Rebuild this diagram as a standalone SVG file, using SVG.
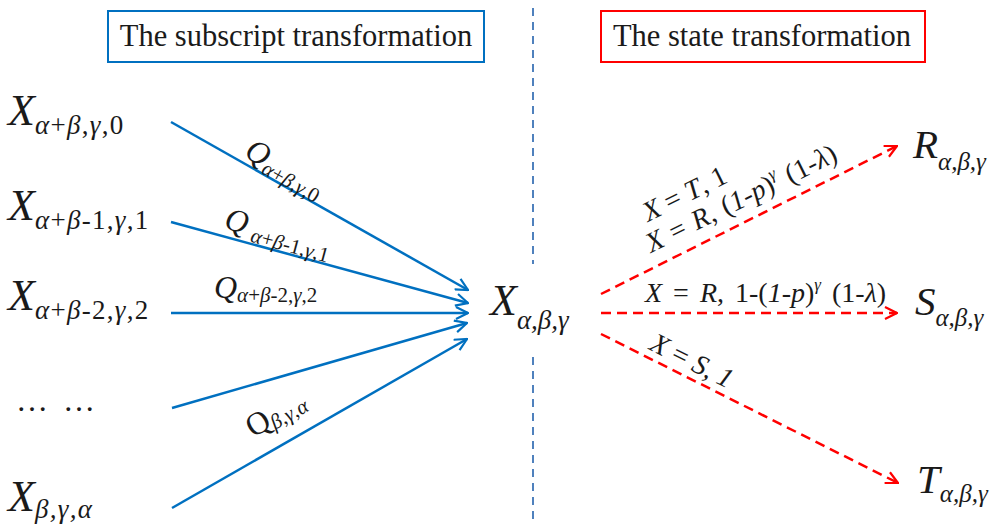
<svg xmlns="http://www.w3.org/2000/svg" width="996" height="530" viewBox="0 0 996 530">
<style>
text{font-family:"Liberation Serif","Times New Roman",serif;fill:#1a1a1a}
.big{font-size:44px}
.big2{font-size:41px}
.i{font-style:italic}
.s{font-size:27px;letter-spacing:1.3px}
.s2{font-size:25px}
.q{font-size:32px}
.qs{font-size:21px}
.lab{font-size:28px}
.sup{font-size:17px}
.title{font-size:30.5px}
.blue{stroke:#0070C0;stroke-width:2.5;fill:none}
.red{stroke:#FF0000;stroke-width:2.5;fill:none;stroke-dasharray:10 6}
</style>
<defs>
<marker id="ab" viewBox="0 0 14 14" refX="13" refY="7" markerWidth="14" markerHeight="14" orient="auto" markerUnits="userSpaceOnUse">
<path d="M1,1 L13,7 L1,13" fill="none" stroke="#0070C0" stroke-width="2.2"/>
</marker>
<marker id="ar" viewBox="0 0 14 14" refX="13" refY="7" markerWidth="14" markerHeight="14" orient="auto" markerUnits="userSpaceOnUse">
<path d="M1,1 L13,7 L1,13" fill="none" stroke="#FF0000" stroke-width="2.2"/>
</marker>
</defs>
<rect width="996" height="530" fill="#ffffff"/>

<g id="title-subscript">
<rect x="108" y="11" width="376" height="51" fill="none" stroke="#0070C0" stroke-width="2"/>
<text x="296" y="46" class="title" text-anchor="middle">The subscript transformation</text>
</g>
<g id="title-state">
<rect x="601" y="11" width="324" height="51" fill="none" stroke="#FF0000" stroke-width="2"/>
<text x="762" y="46" class="title" text-anchor="middle">The state transformation</text>
</g>
<g id="divider">
<line x1="533" y1="8" x2="533" y2="264" stroke="#4F81BD" stroke-width="2" stroke-dasharray="8 6"/>
<line x1="533" y1="357" x2="533" y2="524" stroke="#4F81BD" stroke-width="2" stroke-dasharray="8 6"/>
</g>

<g id="n1"><text x="8" y="125" class="big"><tspan class="i">X</tspan><tspan class="s" dy="9"><tspan class="i">α</tspan>+<tspan class="i">β</tspan>,<tspan class="i">γ</tspan>,0</tspan></text></g>
<g id="n2"><text x="8" y="220" class="big"><tspan class="i">X</tspan><tspan class="s" dy="9"><tspan class="i">α</tspan>+<tspan class="i">β</tspan>-1,<tspan class="i">γ</tspan>,1</tspan></text></g>
<g id="n3"><text x="8" y="310" class="big"><tspan class="i">X</tspan><tspan class="s" dy="9"><tspan class="i">α</tspan>+<tspan class="i">β</tspan>-2,<tspan class="i">γ</tspan>,2</tspan></text></g>
<g id="n4"><text x="16" y="411" style="font-size:32px">…</text><text x="63" y="411" style="font-size:32px">…</text></g>
<g id="n5"><text x="8" y="511" class="big"><tspan class="i">X</tspan><tspan class="s i" dy="7">β,γ,α</tspan></text></g>

<g id="center"><text x="490" y="315" class="big"><tspan class="i">X</tspan><tspan class="s2 i" dy="14" style="font-size:27px">α,β,γ</tspan></text></g>

<g id="R"><text x="913" y="158" class="big2"><tspan class="i">R</tspan><tspan class="s2 i" dy="12">α,β,γ</tspan></text></g>
<g id="S"><text x="915" y="315" class="big2"><tspan class="i">S</tspan><tspan class="s2 i" dy="11">α,β,γ</tspan></text></g>
<g id="T"><text x="917" y="493" class="big2"><tspan class="i">T</tspan><tspan class="s2 i" dy="9">α,β,γ</tspan></text></g>

<g id="connectors">
<line class="blue" x1="171" y1="122" x2="468" y2="290" marker-end="url(#ab)"/>
<line class="blue" x1="171" y1="222" x2="468" y2="303" marker-end="url(#ab)"/>
<line class="blue" x1="171" y1="313" x2="468" y2="313" marker-end="url(#ab)"/>
<line class="blue" x1="172" y1="408" x2="467" y2="323" marker-end="url(#ab)"/>
<line class="blue" x1="172" y1="508" x2="467" y2="339" marker-end="url(#ab)"/>
<line class="red" x1="601" y1="294" x2="897" y2="146" marker-end="url(#ar)"/>
<line class="red" x1="601" y1="313" x2="897" y2="313" marker-end="url(#ar)"/>
<line class="red" x1="601" y1="334" x2="898" y2="483" marker-end="url(#ar)"/>
</g>

<g id="labels">
<text transform="translate(243,156) rotate(29.5)"><tspan class="q i">Q</tspan><tspan class="qs" dy="6"><tspan class="i">α</tspan>+<tspan class="i">β</tspan>,<tspan class="i">γ</tspan>,0</tspan></text>
<text transform="translate(223,228) rotate(15.2)"><tspan class="q i">Q</tspan><tspan class="qs" dx="6" dy="6"><tspan class="i">α</tspan>+<tspan class="i">β</tspan>-1,<tspan class="i">γ</tspan>,1</tspan></text>
<text x="214" y="298"><tspan class="q i">Q</tspan><tspan class="qs" dy="4"><tspan class="i">α</tspan>+<tspan class="i">β</tspan>-2,<tspan class="i">γ</tspan>,2</tspan></text>
<text transform="translate(253,438) rotate(-29.8)"><tspan class="q">Q</tspan><tspan class="qs i" dy="4">β,γ,α</tspan></text>
<text class="lab" transform="translate(648,222) rotate(-26.3)"><tspan class="i">X</tspan> = <tspan class="i">T</tspan>, 1</text>
<text class="lab" style="word-spacing:2px" transform="translate(651,253) rotate(-26.3)"><tspan class="i">X</tspan> = <tspan class="i">R</tspan>, (<tspan class="i">1</tspan>-<tspan class="i">p</tspan>)<tspan class="sup i" dy="-12">γ</tspan><tspan dy="12"> (1-</tspan><tspan class="i">λ</tspan>)</text>
<text class="lab" style="word-spacing:4px" x="645" y="302"><tspan class="i">X</tspan> = <tspan class="i">R</tspan>, 1-(<tspan class="i">1</tspan>-<tspan class="i">p</tspan>)<tspan class="sup i" dy="-12">γ</tspan><tspan dy="12"> (1-</tspan><tspan class="i">λ</tspan>)</text>
<text class="lab" transform="translate(648,349) rotate(26.6)"><tspan class="i">X</tspan> = <tspan class="i">S</tspan>, <tspan class="i">1</tspan></text>
</g>
</svg>
